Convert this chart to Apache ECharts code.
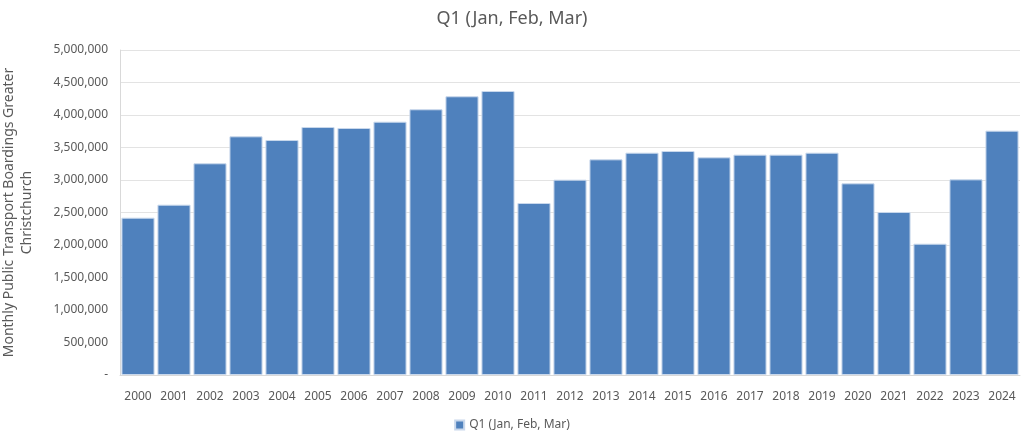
<!DOCTYPE html>
<html><head><meta charset="utf-8">
<script src="https://cdn.jsdelivr.net/npm/echarts@6/dist/echarts.min.js"></script>
<style>html,body{margin:0;padding:0;background:#fff}#c{width:1024px;height:440px}</style>
</head><body><div id="c"></div>
<script>
const years = ['2000','2001','2002','2003','2004','2005','2006','2007','2008','2009','2010','2011','2012','2013','2014','2015','2016','2017','2018','2019','2020','2021','2022','2023','2024'];
const q1 = [2420000,2620000,3257000,3672000,3615000,3815000,3800000,3897000,4088000,4288000,4369000,2646000,3005000,3318000,3420000,3446000,3349000,3390000,3390000,3420000,2949000,2508000,2020000,3010000,3759000];
const seriesName = 'Q1 (Jan, Feb, Mar)';
const chart = echarts.init(document.getElementById('c'), null, {renderer:'canvas'});
const txt = '#595959';
const ff = 'Noto Sans';
chart.setOption({
  animation:false,
  title:{text:'Q1 (Jan, Feb, Mar)', left:'center', top:5, textStyle:{fontFamily:ff, fontSize:18, fontWeight:'normal', color:txt}},
  grid:{left:120, right:4, top:50, bottom:65, containLabel:false, outerBoundsMode:'none'},
  legend:{bottom:4, left:'center', itemWidth:9, itemHeight:9, icon:'rect', itemGap:5, textStyle:{fontFamily:ff, fontSize:12, color:txt}},
  xAxis:{type:'category', data:years,
    axisLine:{show:true, lineStyle:{color:'#d9d9d9'}}, axisTick:{show:false},
    axisLabel:{fontFamily:ff, fontSize:12, color:txt, margin:16, interval:0}},
  yAxis:{type:'value', min:0, max:5000000, interval:500000,
    name:'Monthly Public Transport Boardings Greater\nChristchurch', nameLocation:'middle', nameRotate:90, nameGap:84,
    nameTextStyle:{fontFamily:ff, fontSize:14, color:txt, lineHeight:18},
    axisLine:{show:true, lineStyle:{color:'#d9d9d9'}},
    splitLine:{lineStyle:{color:'#e3e3e3'}},
    axisLabel:{fontFamily:ff, fontSize:12, color:txt, margin:12,
      formatter:v=> v===0 ? '-' : v.toLocaleString('en-US')}},
  series:[{name:seriesName, type:'bar', data:q1, barCategoryGap:'8%',
    itemStyle:{color:'#4f81bd', borderColor:'#c9d8ec', borderWidth:1}}]
});
</script></body></html>
